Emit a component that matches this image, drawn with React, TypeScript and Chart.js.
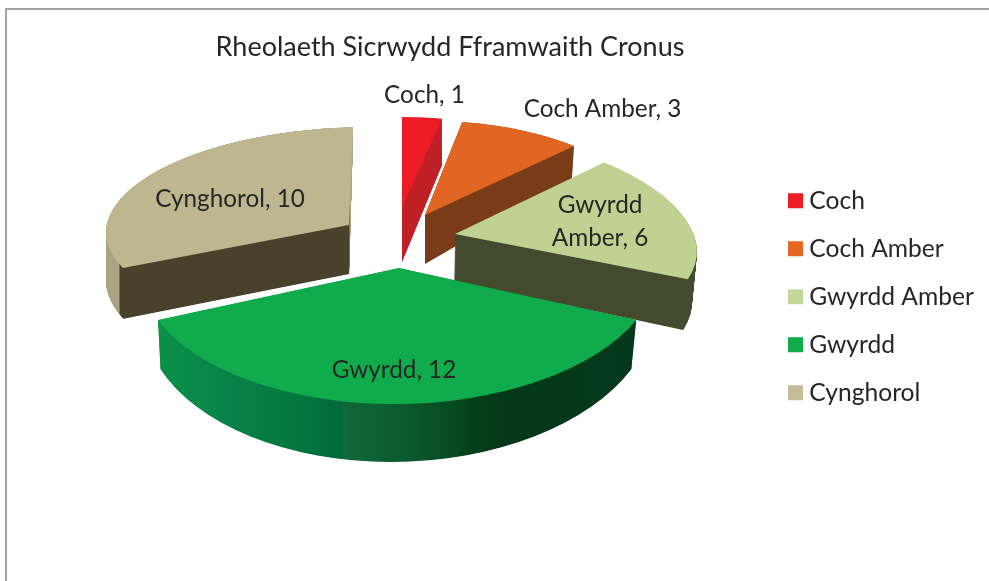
import React, { useEffect, useRef } from "react";
import { Chart, registerables } from "chart.js";

Chart.register(...registerables);

const categories = ["Coch", "Coch Amber", "Gwyrdd Amber", "Gwyrdd", "Cynghorol"];
const counts = [1, 3, 6, 12, 10];
const titleText = "Rheolaeth Sicrwydd Fframwaith Cronus";

const faceColours = ["#ee1c25", "#e16624", "#bfd292", "#10ac4b", "#bdb68e"];
const legendColours = ["#ee1c25", "#e46823", "#c3d69b", "#10ac4b", "#c4bd97"];

const FONT = "Lato, Carlito, 'Open Sans', sans-serif";
const TEXT = "#262626";

// Perspective projection of each slice: apex A and unit "up"/"right" axes of the top rim and bottom rim.
type View = { a: number[]; u: number[]; v: number[] };
const topViews: View[] = [
  { a: [402, 208], u: [0, -91], v: [205, 0] },
  { a: [425, 215], u: [-5, -94], v: [216, -3.5] },
  { a: [455, 234], u: [-29, -106], v: [240, 5] },
  { a: [399, 268], u: [5, -136], v: [259, 0] },
  { a: [349, 225], u: [4, -98], v: [243, -6] },
];
const bottomViews: View[] = [
  { a: [402, 262], u: [0, -99], v: [205, 0] },
  { a: [425, 264], u: [-5, -113], v: [213, -8] },
  { a: [454, 281], u: [-29, -110], v: [236, 7.4] },
  { a: [399, 311], u: [8, -151], v: [255, 0] },
  { a: [349, 274], u: [3, -105], v: [243, -5] },
];
// Side-wall colours as horizontal stops (screen x, colour).
const wallStops: [number, string][][] = [
  [[0, "#c01f26"], [989, "#c01f26"]],
  [[0, "#7a3b18"], [989, "#7a3b18"]],
  [[0, "#434a2d"], [989, "#434a2d"]],
  [
    [160, "#0b9048"], [230, "#07824a"], [290, "#05783f"], [320, "#006f3e"], [341, "#006b3a"],
    [342, "#11683a"], [400, "#0a5c30"], [455, "#074a22"], [470, "#033f18"], [500, "#05381a"], [640, "#04381c"],
  ],
  [[100, "#a9a283"], [119, "#a9a283"], [120, "#49412c"], [349, "#49412c"], [350, "#a9a283"], [360, "#a9a283"]],
];
const drawOrder = [4, 0, 1, 2, 3];

const labelCentres = [
  [424.5, 95], [602.5, 109], [600, 222], [394, 370], [230, 199],
];
const labelLines = counts.map((n, i) =>
  i === 2 ? ["Gwyrdd", `Amber, ${n}`] : [`${categories[i]}, ${n}`],
);

const mix = (p: number[], q: number[], t: number) => [p[0] + (q[0] - p[0]) * t, p[1] + (q[1] - p[1]) * t];

function placeSlice(ctx: CanvasRenderingContext2D, el: any, top: View, bot: View, t: number) {
  const a = mix(top.a, bot.a, t);
  const u = mix(top.u, bot.u, t);
  const v = mix(top.v, bot.v, t);
  const R = el.outerRadius;
  ctx.setTransform(v[0] / R, v[1] / R, -u[0] / R, -u[1] / R, a[0], a[1]);
  ctx.translate(-el.x, -el.y);
}

function paint(ctx: CanvasRenderingContext2D, el: any, fill: any) {
  const saved = el.options;
  el.options = Object.assign(Object.create(saved), { backgroundColor: fill, borderWidth: 0, offset: 0, spacing: 0 });
  el.draw(ctx);
  el.options = saved;
}

function screenGradient(ctx: CanvasRenderingContext2D, stops: [number, string][]) {
  const m = ctx.getTransform();
  const s = m.a * m.a + m.c * m.c;
  const x0 = stops[0][0];
  const x1 = stops[stops.length - 1][0];
  const g = ctx.createLinearGradient(
    ((x0 - m.e) * m.a) / s, ((x0 - m.e) * m.c) / s,
    ((x1 - m.e) * m.a) / s, ((x1 - m.e) * m.c) / s,
  );
  stops.forEach(([x, c]) => g.addColorStop((x - x0) / (x1 - x0), c));
  return g;
}

const pie3d = {
  id: "pie3d",
  afterLayout(chart: any) {
    const tb = chart.titleBlock;
    tb.left = 0;
    tb.right = 900;
    const lg = chart.legend;
    const h = lg.bottom - lg.top;
    const w = lg.right - lg.left;
    lg.left = 770.6;
    lg.right = lg.left + w;
    lg.top = 165;
    lg.bottom = lg.top + h;
  },
  beforeDatasetsDraw(chart: any) {
    const ctx: CanvasRenderingContext2D = chart.ctx;
    const arcs = chart.getDatasetMeta(0).data;
    ctx.save();
    drawOrder.forEach((i) => {
      const el = arcs[i];
      const STEPS = 120;
      for (let k = STEPS; k >= 1; k--) {
        placeSlice(ctx, el, topViews[i], bottomViews[i], k / STEPS);
        paint(ctx, el, screenGradient(ctx, wallStops[i]));
      }
      placeSlice(ctx, el, topViews[i], bottomViews[i], 0);
      paint(ctx, el, faceColours[i]);
    });
    ctx.setTransform(1, 0, 0, 1, 0, 0);
    ctx.restore();
    ctx.save();
    ctx.font = `24.3px ${FONT}`;
    ctx.fillStyle = TEXT;
    ctx.textAlign = "center";
    ctx.textBaseline = "middle";
    labelLines.forEach((lines, i) => {
      lines.forEach((line, j) => {
        ctx.fillText(line, labelCentres[i][0], labelCentres[i][1] + (j - (lines.length - 1) / 2) * 33);
      });
    });
    ctx.restore();
    return false;
  },
};

export default function App() {
  const ref = useRef<HTMLCanvasElement | null>(null);
  useEffect(() => {
    document.body.style.margin = "0";
    document.body.style.background = "#ffffff";
    const chart = new Chart(ref.current as HTMLCanvasElement, {
      type: "pie",
      data: {
        labels: categories,
        datasets: [{ data: counts, backgroundColor: faceColours, borderWidth: 0 }],
      },
      plugins: [pie3d as any],
      options: {
        responsive: false,
        animation: false,
        events: [],
        plugins: {
          tooltip: { enabled: false },
          title: {
            display: true,
            text: titleText,
            color: TEXT,
            font: { family: FONT, size: 27, weight: "normal" },
            padding: { top: 31, bottom: 10 },
          },
          legend: {
            position: "right",
            align: "start",
            labels: {
              color: TEXT,
              font: { family: FONT, size: 24.6 },
              boxWidth: 3,
              boxHeight: 3,
              padding: 23.4,
              generateLabels(c: any) {
                const items = Chart.overrides.pie.plugins.legend.labels.generateLabels(c);
                return items.map((it: any, i: number) => ({
                  ...it,
                  fillStyle: legendColours[i],
                  strokeStyle: legendColours[i],
                  lineWidth: 12,
                }));
              },
            },
          },
        },
      } as any,
    });
    return () => chart.destroy();
  }, []);
  return (
    <div style={{ position: "absolute", left: 0, top: 0, width: 989, height: 581, overflow: "hidden", background: "#fff" }}>
      <div
        style={{
          position: "absolute",
          left: 5,
          top: 8,
          width: 984,
          height: 573,
          boxSizing: "border-box",
          borderLeft: "2px solid #a3a3a3",
          borderTop: "2px solid #a3a3a3",
        }}
      />
      <canvas ref={ref} width={989} height={581} style={{ position: "absolute", left: 0, top: 0, display: "block" }} />
    </div>
  );
}
